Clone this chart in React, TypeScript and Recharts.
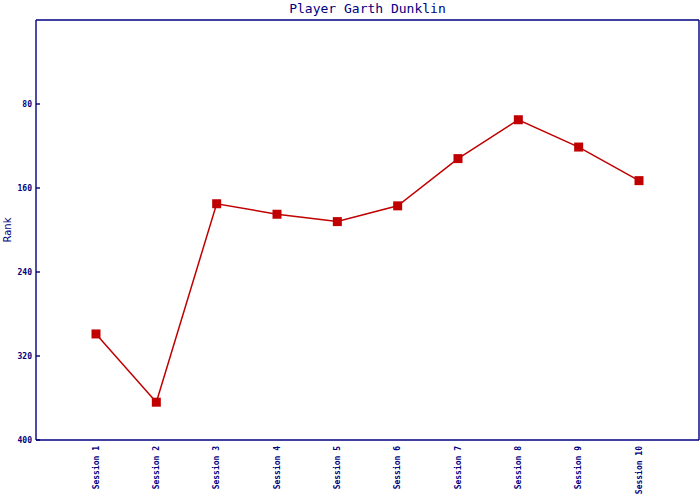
import { LineChart, Line, XAxis, YAxis } from 'recharts'

const sessions = ['Session 1', 'Session 2', 'Session 3', 'Session 4', 'Session 5', 'Session 6', 'Session 7', 'Session 8', 'Session 9', 'Session 10']
const ranks = [299, 364, 175, 185, 192, 177, 132, 95, 121, 153]
const rankTicks = [80, 160, 240, 320, 400]

const NAVY = '#000080'
const RED = '#c00000'
const MONO = '"DejaVu Sans Mono", monospace'

const data = sessions.map((name, i) => ({ name, rank: ranks[i] }))

const frameLine = { stroke: NAVY, strokeWidth: 1.4 }

function RankTick({ x, y, payload }: any) {
  return (
    <g>
      <line x1={x} y1={y} x2={x + 4} y2={y} stroke={NAVY} strokeWidth={1.4} />
      <text x={x - 4} y={y} dy="0.32em" textAnchor="end" fill={NAVY} fontSize={8} fontWeight="bold" fontFamily={MONO}>
        {payload.value}
      </text>
    </g>
  )
}

function SessionTick({ x, y, payload }: any) {
  return (
    <text
      transform={`translate(${x},${y + 6}) rotate(-90)`}
      dy="0.32em"
      textAnchor="end"
      fill={NAVY}
      fontSize={8}
      fontWeight="bold"
      fontFamily={MONO}
    >
      {payload.value}
    </text>
  )
}

function Square(props: any) {
  const { cx, cy, index } = props
  return <rect key={`dot-${index}`} x={cx - 4.5} y={cy - 4.5} width={9} height={9} fill={RED} />
}

function RankLabel(props: any) {
  const { viewBox } = props
  const cy = viewBox.y + viewBox.height / 2
  return (
    <text x={7} y={cy} transform={`rotate(-90, 7, ${cy})`} textAnchor="middle" dy="0.35em" fill={NAVY} fontSize={10} fontFamily='"DejaVu Sans", sans-serif'>
      Rank
    </text>
  )
}

export default function App() {
  return (
    <div style={{ position: 'absolute', left: 0, top: 0, width: 700, height: 500, background: '#fff' }}>
      <div
        style={{
          position: 'absolute',
          left: 36,
          top: 1,
          width: 663,
          textAlign: 'center',
          color: NAVY,
          fontFamily: MONO,
          fontSize: 13,
          lineHeight: '15px',
        }}
      >
        Player Garth Dunklin
      </div>
      <LineChart width={700} height={500} data={data} margin={{ top: 19, right: 0, left: 0, bottom: 0 }}>
        <XAxis
          dataKey="name"
          height={60}
          padding={{ left: 60, right: 60 }}
          axisLine={frameLine}
          tickLine={false}
          tickSize={0}
          tickMargin={0}
          interval={0}
          tick={<SessionTick />}
        />
        <XAxis xAxisId="top" dataKey="name" orientation="top" height={1} tick={false} tickLine={false} axisLine={frameLine} />
        <YAxis
          reversed
          domain={[0, 400]}
          ticks={rankTicks}
          width={36}
          axisLine={frameLine}
          tickLine={false}
          tickSize={0}
          tickMargin={0}
          tick={<RankTick />}
          label={<RankLabel />}
        />
        <YAxis yAxisId="right" orientation="right" reversed domain={[0, 400]} width={1} tick={false} tickLine={false} axisLine={frameLine} />
        <Line
          type="linear"
          dataKey="rank"
          stroke={RED}
          strokeWidth={1.5}
          dot={<Square />}
          activeDot={false}
          isAnimationActive={false}
        />
      </LineChart>
    </div>
  )
}
